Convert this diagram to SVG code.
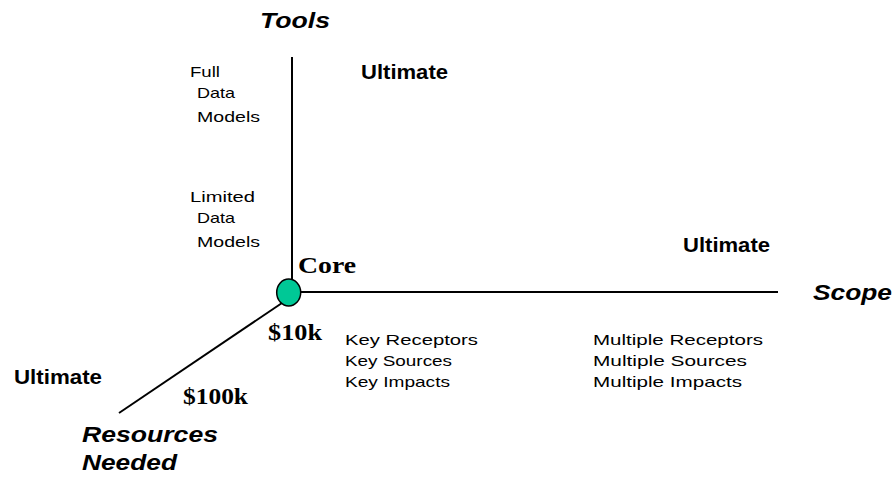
<svg xmlns="http://www.w3.org/2000/svg" width="896" height="478" viewBox="0 0 896 478">
<style>
.axis{font-family:"Liberation Sans",Arial,sans-serif;font-weight:bold;font-style:italic;font-size:22px;fill:#000}
.ult{font-family:"Liberation Sans",Arial,sans-serif;font-weight:bold;font-size:21px;fill:#000}
.sm{font-family:"Liberation Sans",Arial,sans-serif;font-size:15px;fill:#000}
.ser{font-family:"Liberation Serif","Times New Roman",serif;font-weight:bold;font-size:24px;fill:#000}
.ln{stroke:#000;stroke-width:2;fill:none}
</style>
<rect width="896" height="478" fill="#fff"/>
<g id="connectors">
<line class="ln" x1="292" y1="57" x2="292" y2="280"/>
<line class="ln" x1="300" y1="292" x2="778" y2="292"/>
<line class="ln" x1="282" y1="303" x2="119" y2="413" stroke-width="1.6"/>
</g>
<g id="core">
<ellipse cx="288.7" cy="292.5" rx="12" ry="13.5" fill="#00c896" stroke="#000" stroke-width="1.5"/>
<text class="ser" x="298" y="273" textLength="58" lengthAdjust="spacingAndGlyphs">Core</text>
</g>
<g id="tools-axis">
<text class="axis" x="260" y="28" textLength="70" lengthAdjust="spacingAndGlyphs">Tools</text>
<text class="ult" x="361" y="79" textLength="87" lengthAdjust="spacingAndGlyphs">Ultimate</text>
<text class="sm" x="190" y="77" textLength="30" lengthAdjust="spacingAndGlyphs">Full</text>
<text class="sm" x="197" y="98" textLength="38" lengthAdjust="spacingAndGlyphs">Data</text>
<text class="sm" x="197" y="122" textLength="63" lengthAdjust="spacingAndGlyphs">Models</text>
<text class="sm" x="190" y="202" textLength="65" lengthAdjust="spacingAndGlyphs">Limited</text>
<text class="sm" x="197" y="223" textLength="38" lengthAdjust="spacingAndGlyphs">Data</text>
<text class="sm" x="197" y="247" textLength="63" lengthAdjust="spacingAndGlyphs">Models</text>
</g>
<g id="scope-axis">
<text class="axis" x="813" y="300" textLength="79" lengthAdjust="spacingAndGlyphs">Scope</text>
<text class="ult" x="683" y="252" textLength="87" lengthAdjust="spacingAndGlyphs">Ultimate</text>
<text class="sm" x="345" y="345" textLength="133" lengthAdjust="spacingAndGlyphs">Key Receptors</text>
<text class="sm" x="345" y="366" textLength="107" lengthAdjust="spacingAndGlyphs">Key Sources</text>
<text class="sm" x="345" y="387" textLength="105" lengthAdjust="spacingAndGlyphs">Key Impacts</text>
<text class="sm" x="593" y="345" textLength="170" lengthAdjust="spacingAndGlyphs">Multiple Receptors</text>
<text class="sm" x="593" y="366" textLength="154" lengthAdjust="spacingAndGlyphs">Multiple Sources</text>
<text class="sm" x="593" y="387" textLength="149" lengthAdjust="spacingAndGlyphs">Multiple Impacts</text>
</g>
<g id="resources-axis">
<text class="ser" x="268" y="340" textLength="54" lengthAdjust="spacingAndGlyphs">$10k</text>
<text class="ser" x="183" y="404" textLength="65" lengthAdjust="spacingAndGlyphs">$100k</text>
<text class="ult" x="14" y="384" textLength="88" lengthAdjust="spacingAndGlyphs">Ultimate</text>
<text class="axis" x="82" y="442" textLength="136" lengthAdjust="spacingAndGlyphs">Resources</text>
<text class="axis" x="82" y="470" textLength="95" lengthAdjust="spacingAndGlyphs">Needed</text>
</g>
</svg>
